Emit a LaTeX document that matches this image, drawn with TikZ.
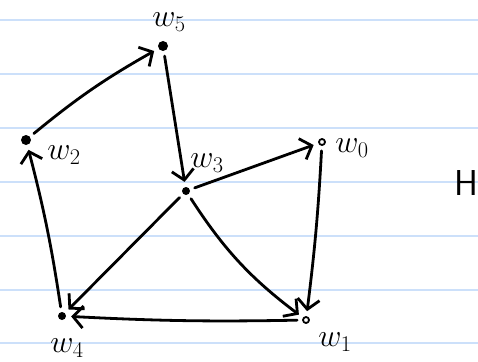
\RequirePackage{fix-cm}
\documentclass[tikz,border=0pt]{standalone}
\usetikzlibrary{arrows.meta}
\definecolor{ruled}{RGB}{204,224,250}
\begin{document}
\begin{tikzpicture}[x=1pt,y=-1pt,line cap=round,line join=round,
  ruleline/.style={ruled,line width=2pt},
  bigdot/.style={circle,fill=black,inner sep=0pt,minimum size=10pt},
  middot/.style={circle,fill=black,inner sep=0pt,minimum size=8pt},
  smalldot/.style={circle,draw=black,line width=1.8pt,fill=white,inner sep=0pt,minimum size=6pt},
  lbl/.style={font=\fontsize{32}{32}\selectfont,inner sep=0pt},
  edge/.style={line width=2.8pt,-{Straight Barb[length=10pt,width=22pt,line width=2.8pt]},shorten <=5pt,shorten >=5pt}]
\useasboundingbox (0,0) rectangle (478,361);
\fill[white] (0,0) rectangle (478,361);
\foreach \y in {20.5,74.3,128.1,181.9,235.7,289.5,343.3}
  \draw[ruleline] (0,\y) -- (478,\y);
% vertices
\node[bigdot] (w5) at (163,46) {};
\node[bigdot] (w2) at (26,140) {};
\node[middot] (w3) at (186,191) {};
\node[smalldot] (w0) at (322,142) {};
\node[smalldot] (w1) at (306,320) {};
\node[middot] (w4) at (62,316) {};
% labels
\node[lbl] (l5) at (169,22) {$w_5$};
\node[lbl] (l2) at (64,155) {$w_2$};
\node[lbl] (l3) at (207,163) {$w_3$};
\node[lbl] (l0) at (352,148) {$w_0$};
\node[lbl] (l1) at (335,342) {$w_1$};
\node[lbl] (l4) at (67,348) {$w_4$};
\node[font=\fontsize{36}{36}\selectfont\sffamily,inner sep=0pt] (lh) at (466,183) {H};
% edges
\draw[edge] (w2) to[bend left=5] (w5);
\draw[edge] (w5) to (w3);
\draw[edge] (w3) to (w0);
\draw[edge] (w0) to[bend left=2] (w1);
\draw[edge] (w3) to[bend right=10] (w1);
\draw[edge] (w3) to (w4);
\draw[edge] (w1) to[bend left=2] (w4);
\draw[edge] (w4) to[bend right=3] (w2);
\end{tikzpicture}
\end{document}
